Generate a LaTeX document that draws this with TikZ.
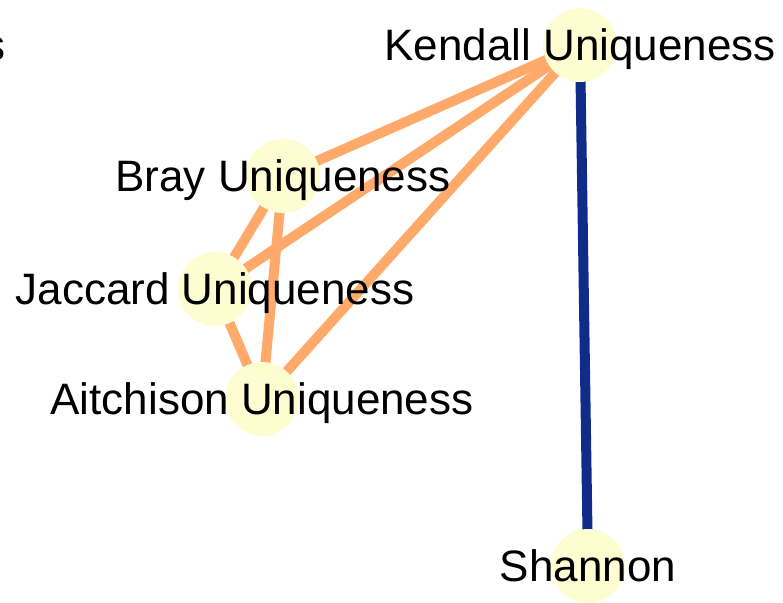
\documentclass[tikz,border=0pt]{standalone}
\usepackage{fontspec}
\setmainfont{Liberation Sans}
\definecolor{nodefill}{HTML}{FEFDD2}
\definecolor{edgeor}{HTML}{FFAA6A}
\definecolor{edgebl}{HTML}{112C88}
\begin{document}
\begin{tikzpicture}[x=1pt,y=-1pt,
  vert/.style={circle,fill=nodefill,minimum size=74pt,inner sep=0pt},
  lab/.style={font=\fontsize{44}{48}\selectfont,text=black,inner sep=0pt,anchor=base,yshift=-15.7pt},
  oe/.style={draw=edgeor,line width=10pt},
  be/.style={draw=edgebl,line width=10pt}]
\useasboundingbox (0,0) rectangle (783,602);
\coordinate (K) at (580,45);
\coordinate (B) at (283,176);
\coordinate (J) at (215,289);
\coordinate (A) at (262,399);
\coordinate (S) at (588,566);
\draw[oe] (K) -- (B);
\draw[oe] (K) -- (J);
\draw[oe] (K) -- (A);
\draw[oe] (B) -- (J);
\draw[oe] (B) -- (A);
\draw[oe] (J) -- (A);
\draw[be] (K) -- (S);
\node[vert] (Kc) at (K) {};
\node[vert] (Bc) at (B) {};
\node[vert] (Jc) at (J) {};
\node[vert] (Ac) at (A) {};
\node[vert] (Sc) at (S) {};
\node[lab] (Kl) at (K) {Kendall Uniqueness};
\node[lab] (Bl) at (B) {Bray Uniqueness};
\node[lab] (Jl) at (J) {Jaccard Uniqueness};
\node[lab] (Al) at (A) {Aitchison Uniqueness};
\node[lab] (Sl) at (S) {Shannon};
\node[lab,anchor=base east] (cut) at (6,45) {s};
\end{tikzpicture}
\end{document}
